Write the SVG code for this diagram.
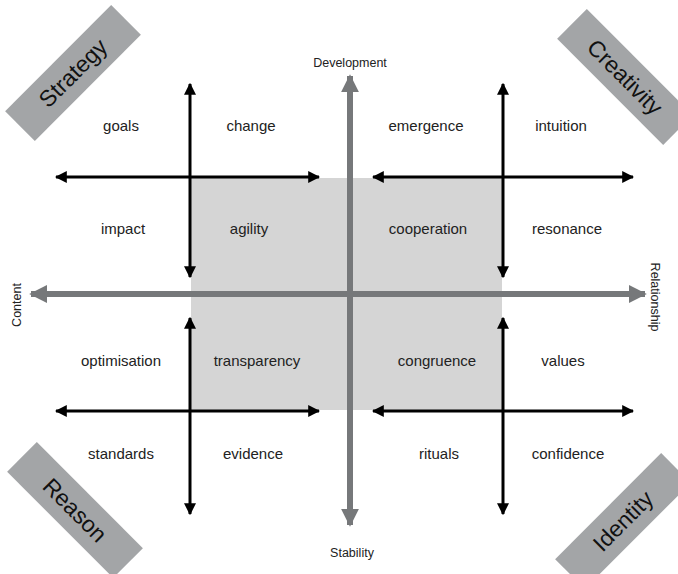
<svg xmlns="http://www.w3.org/2000/svg" width="678" height="574" viewBox="0 0 678 574">
<defs>
<marker id="bk" viewBox="0 0 10 10" refX="9" refY="5" markerWidth="4" markerHeight="4" orient="auto-start-reverse" markerUnits="strokeWidth"><path d="M0,0 L10,5 L0,10 Z" fill="#000"/></marker>
<marker id="gr" viewBox="0 0 10 10" refX="9" refY="5" markerWidth="3" markerHeight="3" orient="auto-start-reverse" markerUnits="strokeWidth"><path d="M0,0 L10,5 L0,10 Z" fill="#76787a"/></marker>
<style>
.t{font-family:"Liberation Sans",Arial,sans-serif;font-size:15px;fill:#222;text-anchor:middle}
.s{font-family:"Liberation Sans",Arial,sans-serif;font-size:12.5px;fill:#222;text-anchor:middle}
.c{font-family:"Liberation Sans",Arial,sans-serif;font-size:23px;fill:#111;text-anchor:middle}
.box{fill:#a3a5a7}
.blk{stroke:#000;stroke-width:3;fill:none;marker-start:url(#bk);marker-end:url(#bk)}
.ax{stroke:#76787a;stroke-width:6;fill:none;marker-start:url(#gr);marker-end:url(#gr)}
</style>
</defs>
<rect id="center-square" x="191" y="178" width="311" height="232" fill="#d5d5d5"/>
<g id="connectors">
<line class="blk" x1="190" y1="84" x2="190" y2="277"/>
<line class="blk" x1="190" y1="318" x2="190" y2="514"/>
<line class="blk" x1="503" y1="84" x2="503" y2="277"/>
<line class="blk" x1="503" y1="318" x2="503" y2="514"/>
<line class="blk" x1="56" y1="177" x2="319" y2="177"/>
<line class="blk" x1="373" y1="177" x2="633" y2="177"/>
<line class="blk" x1="56" y1="411" x2="319" y2="411"/>
<line class="blk" x1="373" y1="411" x2="633" y2="411"/>
<line class="ax" x1="350" y1="525" x2="350" y2="76"/>
<line class="ax" x1="31" y1="294" x2="645" y2="294"/>
</g>
<g id="axis-labels">
<text class="s" x="350" y="67">Development</text>
<text class="s" x="352" y="557">Stability</text>
<text class="s" transform="translate(21,305) rotate(-90)">Content</text>
<text class="s" transform="translate(651,297) rotate(90)">Relationship</text>
</g>
<g id="strategy" transform="translate(73,73) rotate(-45)"><rect class="box" x="-75" y="-21" width="150" height="42"/><text class="c" y="8">Strategy</text></g>
<g id="creativity" transform="translate(625,77) rotate(45)"><rect class="box" x="-75" y="-21" width="150" height="42"/><text class="c" y="8">Creativity</text></g>
<g id="reason" transform="translate(75,510) rotate(45)"><rect class="box" x="-75" y="-21" width="150" height="42"/><text class="c" y="8">Reason</text></g>
<g id="identity" transform="translate(623,521) rotate(-45)"><rect class="box" x="-75" y="-21" width="150" height="42"/><text class="c" y="8">Identity</text></g>
<g id="labels">
<text class="t" x="121" y="131">goals</text>
<text class="t" x="251" y="131">change</text>
<text class="t" x="426" y="131">emergence</text>
<text class="t" x="561" y="131">intuition</text>
<text class="t" x="123" y="234">impact</text>
<text class="t" x="249" y="234">agility</text>
<text class="t" x="428" y="234">cooperation</text>
<text class="t" x="567" y="234">resonance</text>
<text class="t" x="121" y="366">optimisation</text>
<text class="t" x="257" y="366">transparency</text>
<text class="t" x="437" y="366">congruence</text>
<text class="t" x="563" y="366">values</text>
<text class="t" x="121" y="459">standards</text>
<text class="t" x="253" y="459">evidence</text>
<text class="t" x="439" y="459">rituals</text>
<text class="t" x="568" y="459">confidence</text>
</g>
</svg>
